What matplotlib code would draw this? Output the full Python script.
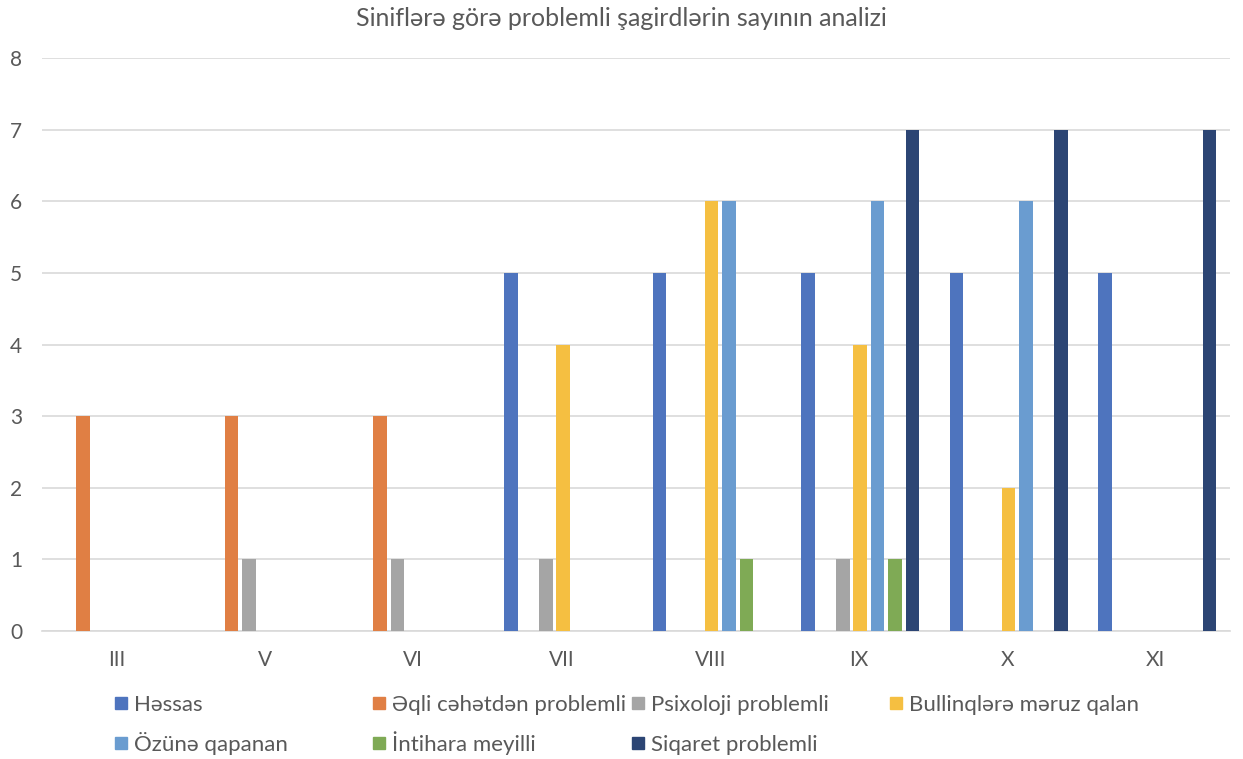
import matplotlib
matplotlib.use("Agg")
import matplotlib.pyplot as plt
import numpy as np
from matplotlib.patches import Rectangle

categories = ["III", "V", "VI", "VII", "VIII", "IX", "X", "XI"]
series_names = ["Həssas", "Əqli cəhətdən problemli", "Psixoloji problemli",
                "Bullinqlərə məruz qalan", "Özünə qapanan", "İntihara meyilli",
                "Siqaret problemli"]
hessas = [0, 0, 0, 5, 5, 5, 5, 5]
eqli = [3, 3, 3, 0, 0, 0, 0, 0]
psixoloji = [0, 1, 1, 1, 0, 1, 0, 0]
bullinq = [0, 0, 0, 4, 6, 4, 2, 0]
ozune = [0, 0, 0, 0, 6, 6, 6, 0]
intihar = [0, 0, 0, 0, 1, 1, 0, 0]
siqaret = [0, 0, 0, 0, 0, 7, 7, 7]
series_values = [hessas, eqli, psixoloji, bullinq, ozune, intihar, siqaret]
yticks = [0, 1, 2, 3, 4, 5, 6, 7, 8]
title = "Siniflərə görə problemli şagirdlərin sayının analizi"

colors = ["#4E74BE", "#E07F44", "#A5A5A5", "#F5BF41", "#6A9CD0", "#7FAA55", "#2C4574"]
txt = "#595959"
plt.rcParams['font.family'] = ['Lato', 'DejaVu Sans']

fig = plt.figure(figsize=(12.43, 7.59), dpi=100)
ax = fig.add_axes([42/1243, 1-631/759, (1230-42)/1243, (631-58)/759])

x = np.arange(len(categories))
step = 0.1168
width = 0.091
for i, (name, vals) in enumerate(zip(series_names, series_values)):
    ax.bar(x + (i-3)*step + 0.01, vals, width, color=colors[i],
           linewidth=0, zorder=3, label=name)

ax.set_xlim(-0.5, len(categories)-0.5)
ax.set_ylim(0, 8)
ax.set_yticks(yticks)
ax.set_yticklabels([str(t) for t in yticks], fontsize=15, color=txt)
ax.set_xticks(x)
ax.set_xticklabels(categories, fontsize=15, color=txt)
ax.tick_params(axis='both', length=0)
ax.tick_params(axis='x', pad=14)
ax.grid(axis='y', color="#D9D9D9", linewidth=1.2, zorder=0)
for s in ["top", "right", "left"]:
    ax.spines[s].set_visible(False)
ax.spines["bottom"].set_color("#D9D9D9")
ax.spines["bottom"].set_linewidth(1.2)
for lab in ax.get_yticklabels():
    lab.set_horizontalalignment('left')
ax.tick_params(axis='y', pad=23)

fig.text(0.5, 1-18/759, title, ha='center', va='center', fontsize=18, color=txt)

# legend laid out like Excel: 4 equal columns
col_x = [115, 373, 632, 890]
row_y = [703, 743]
for i, name in enumerate(series_names):
    r, c = divmod(i, 4)
    px, py = col_x[c], row_y[r]
    fig.add_artist(Rectangle((px/1243, 1-(py+6)/759), 12/1243, 12/759,
                             transform=fig.transFigure, color=colors[i]))
    fig.text((px+19)/1243, 1-(py+8)/759, name, ha='left', va='baseline',
             fontsize=16, color=txt)

fig.savefig("out.png", dpi=100)
